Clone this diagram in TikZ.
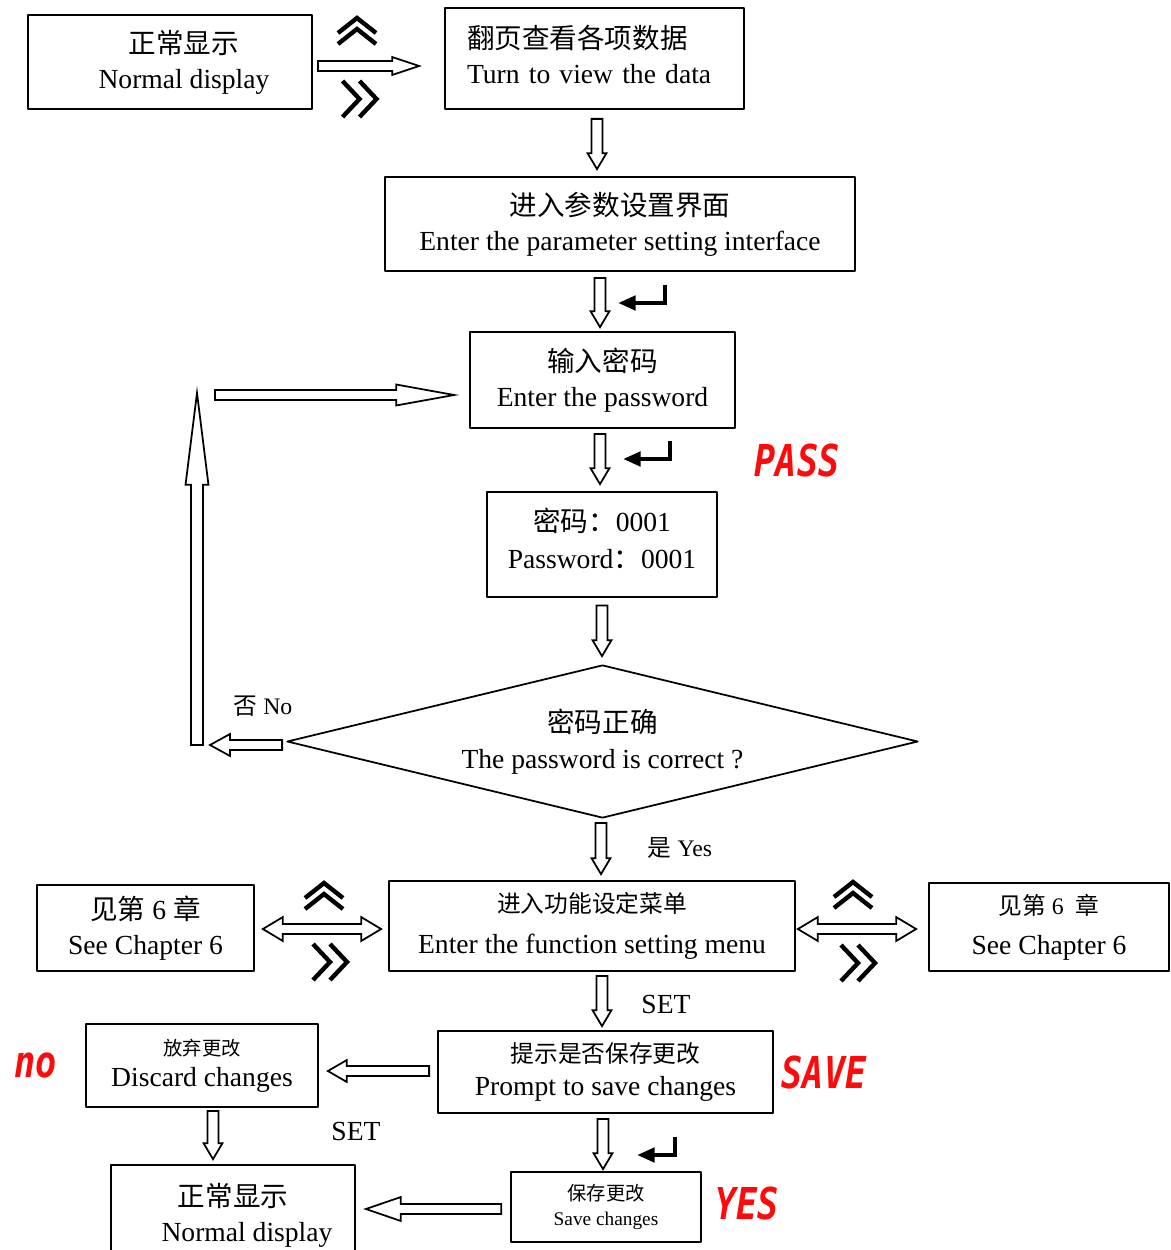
\documentclass[tikz,border=0pt]{standalone}
\usepackage{fontspec}
\setmainfont{Liberation Serif}
\newfontfamily\cjk{Noto Sans CJK SC}
\newfontfamily\ledfont{DejaVu Sans Mono Bold Oblique}[FakeStretch=0.8]
\usetikzlibrary{calc,shapes.geometric,arrows.meta}
\definecolor{ledred}{RGB}{255,10,10}
\def\cjks{\cjk\fontsize{13.5}{17}\selectfont}
\def\cjkt{\cjk\fontsize{11}{14}\selectfont}
\begin{document}
\begin{tikzpicture}[x=0.02cm, y=-0.02cm, line join=round, line cap=round, font=\fontsize{15.7}{19.8}\selectfont]
	\tikzset{every node/.style={inner sep=0pt},
		box/.style n args={2}{draw, line width=1pt, minimum width=#1*0.02cm, minimum height=#2*0.02cm, align=center},
		harot/.style={shift={(\p1)}, rotate=\n1},
		ha/.style n args={3}{draw, fill=white, line width=1pt, line join=miter, to path={
				let \p1=(\tikztostart), \p2=(\tikztotarget), \n1={atan2(\y2-\y1,\x2-\x1)}, \n2={veclen(\x2-\x1,\y2-\y1)} in
				([harot]0pt,{-#1*0.567pt}) -- ([harot]{\n2-#3*0.567pt},{-#1*0.567pt}) -- ([harot]{\n2-#3*0.567pt},{-#2*0.567pt})
				-- ([harot]\n2,0pt) -- ([harot]{\n2-#3*0.567pt},{#2*0.567pt}) -- ([harot]{\n2-#3*0.567pt},{#1*0.567pt}) -- ([harot]0pt,{#1*0.567pt}) -- cycle}},
		hb/.style n args={3}{draw, fill=white, line width=1pt, line join=miter, to path={
				let \p1=(\tikztostart), \p2=(\tikztotarget), \n1={atan2(\y2-\y1,\x2-\x1)}, \n2={veclen(\x2-\x1,\y2-\y1)} in
				([harot]{#3*0.567pt},{-#1*0.567pt}) -- ([harot]{\n2-#3*0.567pt},{-#1*0.567pt}) -- ([harot]{\n2-#3*0.567pt},{-#2*0.567pt})
				-- ([harot]\n2,0pt) -- ([harot]{\n2-#3*0.567pt},{#2*0.567pt}) -- ([harot]{\n2-#3*0.567pt},{#1*0.567pt}) -- ([harot]{#3*0.567pt},{#1*0.567pt})
				-- ([harot]{#3*0.567pt},{#2*0.567pt}) -- ([harot]0pt,0pt) -- ([harot]{#3*0.567pt},{-#2*0.567pt}) -- cycle}},
		led/.style={text=ledred, font=\ledfont\fontsize{25}{25}\selectfont},
		pics/retkey/.style={code={\draw[line width=2.8pt, line cap=butt, line join=miter, -{Triangle[length=10pt,width=8pt]}] (0,0) -- (0,18) -- (-#1,18);}},
		pics/chevup/.style={code={\draw[line width=2.5pt, line cap=butt, line join=miter] (-19,3) -- (0,-12) -- (19,3) (-19,14) -- (0,-1) -- (19,14);}},
		pics/chevright/.style={code={\draw[line width=2.5pt, line cap=butt, line join=miter] (-17,-18) -- (0,0) -- (-17,18) (0,-18) -- (17,0) -- (0,18);}}}
	\useasboundingbox (0,0) rectangle (1170,1250);
	%Vẽ các khung
	\node[box={284}{94}] (b1) at (170,62) {\hspace*{0.56cm}{\cjk 正常显示}\\\hspace*{0.56cm}Normal display};
	\node[box={299}{101}, align=left, text width=255*0.02cm, text depth=25pt] (b2) at (594.5,58.5) {{\cjk 翻页查看各项数据}\\Turn to view the data};
	\node[box={470}{94}] (b3) at (620,224) {{\cjk 进入参数设置界面}\\Enter the parameter setting interface};
	\node[box={265}{96}] (b4) at (602.5,380) {{\cjk 输入密码}\\Enter the password};
	\node[box={230}{105}, text depth=6.8pt] (b5) at (602,544.5) {{\cjk 密码：}0001\\[1pt]Password{\cjk ：}0001};
	\node[draw, line width=1pt, diamond, aspect=4.12, minimum width=631*0.02cm, minimum height=153*0.02cm, align=center] (dm) at (602.5,741.5) {{\cjk 密码正确}\\[1pt]The password is correct ?};
	\node[box={406}{90}] (b6) at (592,926) {{\cjks 进入功能设定菜单}\\[3.5pt]Enter the function setting menu};
	\node[box={217}{86}] (bl) at (145.5,928) {{\cjk 见第} 6 {\cjk 章}\\See Chapter 6};
	\node[box={240}{88}] (br) at (1049,927) {{\cjks 见第}{\fontsize{13.5}{17}\selectfont{} 6~~}{\cjks 章}\\[3pt]See Chapter 6};
	\node[box={335}{82}] (b7) at (605.5,1072) {{\cjks 提示是否保存更改}\\[-1pt]Prompt to save changes};
	\node[box={232}{83}] (b8) at (202,1065.5) {{\cjkt 放弃更改}\\[-2pt]Discard changes};
	\node[box={244}{100}] (b9) at (233,1215) {{\cjk 正常显示}\\\hspace*{0.56cm}Normal display};
	\node[box={190}{70}, font=\fontsize{11}{14.7}\selectfont] (b10) at (606,1207) {{\cjk 保存更改}\\Save changes};
	\coordinate (lb) at (197,745);
	\coordinate (lt) at (197,393);
	%Vẽ mũi tên
	\draw[ha={5}{9}{27}] ($(b1.east)+(5,4)$) to ($(b2.west)+(-25,7.5)$);
	\draw[ha={5.5}{9.5}{16}] ($(b2.south)+(2.5,9)$) to ($(b3.north)+(-23,-7)$);
	\draw[ha={5.5}{9.5}{16}] ($(b3.south)+(-20,6)$) to ($(b4.north)+(-2.5,-4)$);
	\draw[ha={5.5}{9.5}{16}] ($(b4.south)+(-2.5,5)$) to ($(b5.north)+(-2,-7)$);
	\draw[ha={5.5}{9.5}{16}] ($(b5.south)+(0,7.5)$) to ($(dm.north)+(-0.5,-8)$);
	\draw[ha={5}{11}{20}] ($(dm.west)+(-4,3.5)$) to ($(lb)+(13,0)$);
	\draw[ha={6}{11.5}{92}] (lb) to (lt);
	\draw[ha={5}{10.5}{58}] ($(lt)+(18,2)$) to ($(b4.west)+(-15,15)$);
	\draw[ha={5.5}{9.5}{16}] ($(dm.south)+(-1.5,4)$) to ($(b6.north)+(9,-6)$);
	\draw[hb={5}{12}{20}] ($(bl.east)+(8,1)$) to ($(b6.west)+(-7,3)$);
	\draw[hb={5}{12}{20}] ($(b6.east)+(2,3)$) to ($(br.west)+(-12,2)$);
	\draw[ha={5.5}{9.5}{16}] ($(b6.south)+(10,4)$) to ($(b7.north)+(-3.5,-4)$);
	\draw[ha={5}{11}{19}] ($(b7.west)+(-8,-1)$) to ($(b8.east)+(9,5.5)$);
	\draw[ha={5.5}{9.5}{16}] ($(b8.south)+(11,3)$) to ($(b9.north)+(-20,-5)$);
	\draw[ha={5.5}{9.5}{16}] ($(b7.south)+(-2.5,5)$) to ($(b10.north)+(-3,-2)$);
	\draw[ha={5}{12}{35}] ($(b10.west)+(-9,2)$) to ($(b9.east)+(10,-6)$);
	%Vẽ phím
	\pic at (357,30) {chevup};
	\pic at (359.5,99) {chevright};
	\pic at (324,895) {chevup};
	\pic at (330,962) {chevright};
	\pic at (853,894) {chevup};
	\pic at (858,963) {chevright};
	\pic at (665,285) {retkey=47};
	\pic at (670,441) {retkey=47};
	\pic at (675,1137) {retkey=38};
	%Nhãn
	\node[font=\fontsize{13.5}{16}\selectfont] (lno) at (263,706) {{\cjk 否} No};
	\node[font=\fontsize{13.5}{16}\selectfont] (lyes) at (680,848) {{\cjk 是} Yes};
	\node (set1) at (666,1004) {SET};
	\node (set2) at (356,1131) {SET};
	\node[led] (pass) at (797,461) {PASS};
	\node[led] (save) at (824,1072) {SAVE};
	\node[led] (no) at (36,1065) {no};
	\node[led] (yes) at (747,1203) {YES};
\end{tikzpicture}
\end{document}
